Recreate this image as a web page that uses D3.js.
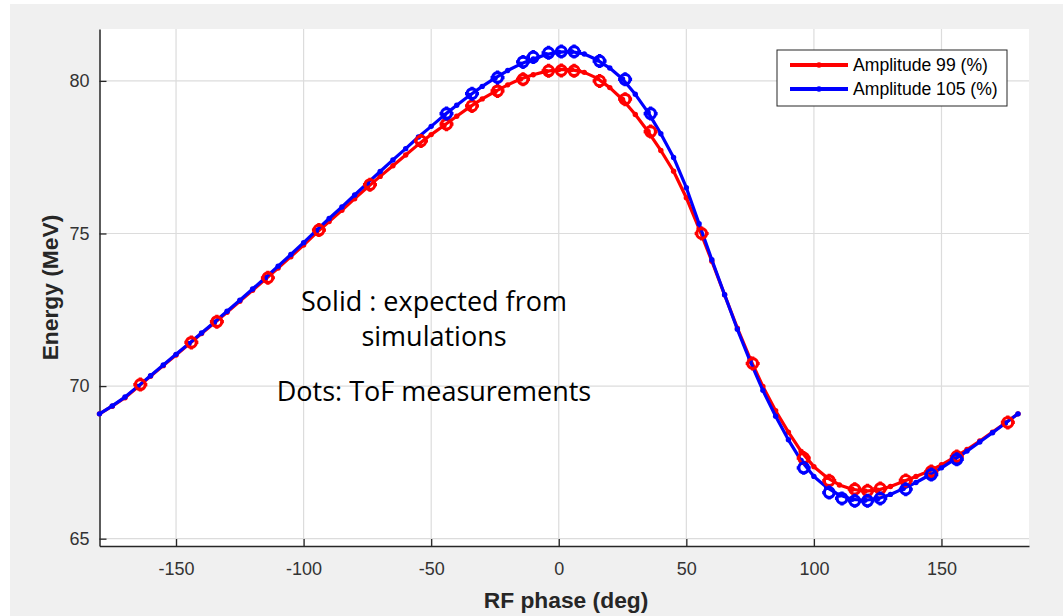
<!DOCTYPE html>
<html><head><meta charset="utf-8">
<script src="https://cdn.jsdelivr.net/npm/d3@7"></script>
<style>body{margin:0;background:#fff}svg{display:block}</style>
</head><body><svg id="c" width="1063" height="616"></svg>
<script>
// ---- data ----
const simPhase = [-180,-175,-170,-165,-160,-155,-150,-145,-140,-135,-130,-125,-120,-115,-110,-105,-100,-95,-90,-85,-80,-75,-70,-65,-60,-55,-50,-45,-40,-35,-30,-25,-20,-15,-10,-5,0,5,10,15,20,25,30,35,40,45,50,55,60,65,70,75,80,85,90,95,100,105,110,115,120,125,130,135,140,145,150,155,160,165,170,175,180];
const simAmp99 = [69.09,69.34,69.62,69.97,70.32,70.67,71.02,71.37,71.72,72.07,72.42,72.78,73.14,73.50,73.87,74.24,74.62,75.02,75.39,75.76,76.14,76.51,76.87,77.22,77.57,77.92,78.24,78.54,78.84,79.14,79.41,79.65,79.87,80.06,80.20,80.31,80.37,80.37,80.28,80.09,79.78,79.39,78.90,78.34,77.72,77.04,76.17,75.16,74.09,72.99,71.90,70.90,69.99,69.19,68.49,67.86,67.36,67.01,66.76,66.62,66.56,66.59,66.71,66.87,67.04,67.21,67.42,67.66,67.92,68.20,68.49,68.79,69.09];
const simAmp105 = [69.09,69.35,69.64,69.99,70.34,70.69,71.04,71.39,71.74,72.09,72.45,72.81,73.18,73.55,73.93,74.31,74.70,75.10,75.49,75.87,76.26,76.65,77.03,77.41,77.78,78.16,78.51,78.87,79.20,79.52,79.82,80.09,80.34,80.55,80.72,80.86,80.94,80.96,80.88,80.69,80.42,80.06,79.56,78.97,78.27,77.49,76.50,75.32,74.14,72.99,71.86,70.82,69.86,69.01,68.24,67.56,67.04,66.68,66.43,66.29,66.26,66.31,66.45,66.64,66.84,67.07,67.32,67.59,67.87,68.17,68.47,68.78,69.09];
const measPhase99 = [-164,-144,-134,-114,-94,-74,-54,-44,-34,-24,-14,-4,1,6,16,26,36,56,76,96,106,116,121,126,136,146,156,176];
const meas99 = [70.05,71.43,72.11,73.55,75.11,76.60,78.03,78.58,79.18,79.67,80.05,80.33,80.34,80.33,80.00,79.40,78.34,75.00,70.74,67.64,66.90,66.62,66.57,66.64,66.91,67.20,67.69,68.81];
const measPhase105 = [-44,-34,-24,-14,-10,-4,1,6,16,26,36,96,106,111,116,121,126,136,146,156];
const meas105 = [78.93,79.58,80.11,80.62,80.78,80.92,80.96,80.96,80.65,80.05,78.93,67.32,66.51,66.32,66.24,66.24,66.32,66.62,67.10,67.60];
const xTicks = [-150,-100,-50,0,50,100,150];
const yTicks = [65,70,75,80];
const seriesNames = ["Amplitude 99 (%)","Amplitude 105 (%)"];
const seriesColors = ["#ff0000","#0000ff"];
const xTitle = "RF phase (deg)";
const yTitle = "Energy (MeV)";
const note = ["Solid : expected from","simulations","Dots: ToF measurements"];

// ---- drawing ----
const svg = d3.select("#c");
svg.append("rect").attr("x",10).attr("y",4).attr("width",1053).attr("height",612).attr("fill","#f0f0f0");
const L=99.5,R=1029,T=29,B=546;
const x = d3.scaleLinear().domain([-180,184.3]).range([L,R]);
const y = d3.scaleLinear().domain([64.76,81.70]).range([B,T]);

svg.append("rect").attr("x",L).attr("y",T).attr("width",R-L).attr("height",B-T).attr("fill","#fff");

// grid
const g = svg.append("g");
g.selectAll(".gx").data(xTicks).join("line")
  .attr("x1",d=>x(d)).attr("x2",d=>x(d)).attr("y1",T).attr("y2",B)
  .attr("stroke","#dcdcdc").attr("stroke-width",1.2);
g.selectAll(".gy").data(yTicks).join("line")
  .attr("x1",L).attr("x2",R).attr("y1",d=>y(d)).attr("y2",d=>y(d))
  .attr("stroke","#dcdcdc").attr("stroke-width",1.2);

// axes
const axFont = "'Liberation Sans', Arial, sans-serif";
const xAx = svg.append("g").attr("transform",`translate(0,${B})`)
  .call(d3.axisBottom(x).tickValues(xTicks).tickSizeInner(-7).tickSizeOuter(0).tickPadding(16.5));
const yAx = svg.append("g").attr("transform",`translate(${L},0)`)
  .call(d3.axisLeft(y).tickValues(yTicks).tickSizeInner(-7).tickSizeOuter(0).tickPadding(10));
[xAx,yAx].forEach(a=>{
  a.select(".domain").attr("stroke","#262626").attr("stroke-width",1.5);
  a.selectAll(".tick line").attr("stroke","#262626").attr("stroke-width",1.3);
  a.selectAll(".tick text").attr("fill","#333").attr("font-family",axFont).attr("font-size",18);
});
xAx.selectAll(".tick text").text(d=>d<0?"-"+Math.abs(d):d);

svg.append("text").attr("x",566).attr("y",608).attr("text-anchor","middle")
  .attr("font-family",axFont).attr("font-weight","bold").attr("font-size",22.8).attr("fill","#262626").text(xTitle);
svg.append("text").attr("transform",`translate(58,${(T+B)/2}) rotate(-90)`).attr("text-anchor","middle")
  .attr("font-family",axFont).attr("font-weight","bold").attr("font-size",22.8).attr("fill","#262626").text(yTitle);

// simulation lines
const sims = [simAmp99, simAmp105];
const line = d3.line().x(d=>x(d[0])).y(d=>y(d[1]));
sims.forEach((vals,i)=>{
  const pts = simPhase.map((p,j)=>[p,vals[j]]);
  svg.append("path").datum(pts).attr("d",line).attr("fill","none")
    .attr("stroke",seriesColors[i]).attr("stroke-width",3.2).attr("stroke-linejoin","round");
  svg.append("g").selectAll("circle").data(pts).join("circle")
    .attr("cx",d=>x(d[0])).attr("cy",d=>y(d[1])).attr("r",2.7).attr("fill",seriesColors[i]);
});

// measurement markers
function markers(ph, vals, col){
  const mg = svg.append("g");
  const sel = mg.selectAll("g").data(ph.map((p,j)=>[p,vals[j]])).join("g")
    .attr("transform",d=>`translate(${x(d[0])},${y(d[1])})`);
  sel.append("circle").attr("r",4.9).attr("fill","none").attr("stroke",col).attr("stroke-width",3.2);
  sel.append("path").attr("d","M0,-7V-5M0,5V7M-7,0H-5M5,0H7").attr("stroke",col).attr("stroke-width",3.2);
}
markers(measPhase99, meas99, seriesColors[0]);
markers(measPhase105, meas105, seriesColors[1]);

// legend
const lg = svg.append("g");
lg.append("rect").attr("x",777).attr("y",50).attr("width",230).attr("height",56)
  .attr("fill","#fff").attr("stroke","#262626").attr("stroke-width",1);
seriesNames.forEach((n,i)=>{
  const yy = 65 + i*24;
  lg.append("line").attr("x1",790).attr("x2",848).attr("y1",yy).attr("y2",yy)
    .attr("stroke",seriesColors[i]).attr("stroke-width",4);
  lg.append("circle").attr("cx",819).attr("cy",yy).attr("r",2.8).attr("fill",seriesColors[i]);
  lg.append("text").attr("x",853).attr("y",yy+6).attr("font-family",axFont).attr("font-size",17.6)
    .attr("fill","#000").text(n);
});

// annotation
const nf = "'Open Sans', 'Noto Sans', sans-serif";
[[note[0],311],[note[1],346],[note[2],401]].forEach(([t,yy])=>{
  svg.append("text").attr("x",434).attr("y",yy).attr("text-anchor","middle")
    .attr("font-family",nf).attr("font-size",27).attr("fill","#000").text(t);
});
</script></body></html>
